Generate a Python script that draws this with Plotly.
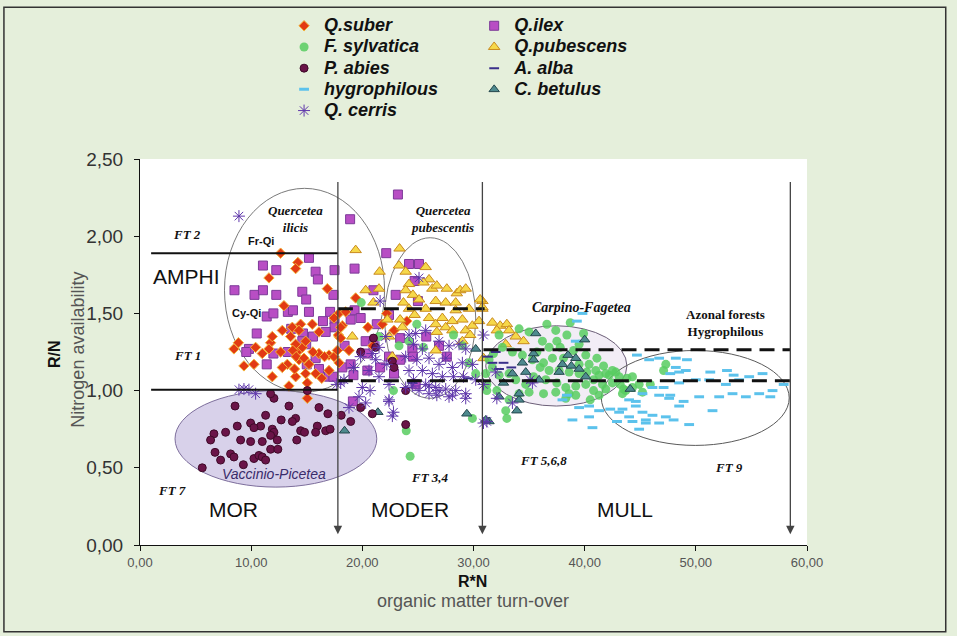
import plotly.graph_objects as go

# ---------------- data (x = R*N, y = R/N) ----------------
suber_x = [12.65, 14.2, 14.0, 11.6, 16.85, 12.95, 17.9, 14.45, 15.5, 16.1, 13.7, 8.45, 8.85, 10.25, 11.0, 11.75,
           11.9, 12.65, 13.25, 14.3, 14.6, 14.9, 14.3, 15.2, 16.1, 17.0, 17.9, 11.9, 14.0, 15.05, 15.8, 13.4, 17.0,
           12.8, 18.2, 17.85, 14.3, 13.55, 14.0, 10.4, 11.6, 13.75, 14.05, 14.75, 15.55, 16.6, 17.45, 17.75, 9.35,
           12.8, 13.9, 14.9, 16.35, 18.05, 19.4, 18.5, 18.05, 18.8, 17.9, 20.5, 24.0, 22.85, 17.45, 15.05, 22.2,
           21.8, 20.95]
suber_y = [1.89, 1.83, 1.79, 1.73, 1.66, 1.55, 1.50, 1.43, 1.43, 1.38, 1.41, 1.27, 1.31, 1.17, 1.24, 1.31,
           1.35, 1.25, 1.17, 1.26, 1.28, 1.32, 1.20, 1.17, 1.24, 1.23, 1.35, 1.09, 1.09, 1.05, 1.11, 1.03, 1.13,
           1.39, 1.42, 1.36, 1.39, 1.35, 1.30, 1.28, 1.27, 1.26, 1.22, 1.21, 1.25, 1.22, 1.22, 1.26, 1.16,
           1.15, 1.14, 1.11, 1.08, 1.34, 1.60, 1.51, 1.41, 1.26, 1.18, 1.41, 1.45, 1.39, 1.47, 0.95, 1.50,
           1.43, 1.29]

ilex_x = [15.2, 11.06, 12.26, 15.8, 16.0, 17.5, 8.5, 10.3, 11.06, 12.26, 14.6, 14.95, 17.4, 13.3, 13.76, 15.2,
          17.1, 11.4, 12.0, 16.46, 17.5, 13.6, 10.5, 17.5, 14.66, 16.7, 15.56, 9.8, 9.56, 12.0, 13.3, 14.6, 14.95,
          15.8, 15.0, 11.4, 16.1, 17.0, 18.2, 18.4, 23.2, 18.9, 22.15, 24.2, 25.1, 19.3, 24.7, 23.0, 21.0, 25.0,
          19.3, 19.85, 18.95, 22.4, 21.3, 20.3, 21.0, 23.4, 24.5, 25.75, 26.9, 24.55, 23.4, 22.4, 20.45, 18.95,
          17.4, 19.2, 20.45, 21.6, 22.85, 24.8, 27.6, 19.15]
ilex_y = [1.86, 1.81, 1.78, 1.77, 1.72, 1.78, 1.65, 1.62, 1.65, 1.62, 1.64, 1.59, 1.62, 1.51, 1.52, 1.51,
          1.51, 1.48, 1.50, 1.45, 1.46, 1.40, 1.37, 1.41, 1.37, 1.38, 1.35, 1.27, 1.25, 1.24, 1.25, 1.32, 1.30,
          1.21, 1.17, 1.17, 1.14, 1.09, 1.15, 1.29, 2.27, 2.11, 1.89, 1.82, 1.82, 1.79, 1.71, 1.62, 1.65, 1.58,
          1.52, 1.47, 1.46, 1.49, 1.43, 1.32, 1.30, 1.34, 1.27, 1.35, 1.29, 1.22, 1.20, 1.22, 1.24, 1.17,
          1.09, 1.10, 1.13, 1.15, 1.11, 1.04, 1.22, 0.93]

sylv_x = [36.6, 38.4, 37.5, 36.8, 37.8, 39.0, 40.1, 36.3, 37.1, 38.1, 39.5, 40.4, 41.1, 41.7, 41.0, 40.2, 39.5,
          38.6, 37.7, 36.8, 36.0, 35.3, 34.4, 33.5, 32.6, 31.8, 31.7, 32.3, 33.2, 33.8, 34.7, 35.4, 36.5, 37.5,
          38.3, 39.2, 40.1, 40.8, 41.3, 42.2, 42.8, 42.5, 41.9, 43.2, 43.8, 43.7, 44.3, 44.9, 40.8, 39.2, 38.3,
          38.6, 37.4, 36.3, 35.0, 34.1, 33.2, 32.9, 32.1, 31.2, 31.1, 31.4, 32.3, 34.1, 35.0, 38.7, 39.5, 39.9,
          35.7, 36.2, 37.4, 40.5, 41.3, 41.9, 42.5, 43.1, 43.5, 43.4, 44.3, 45.2, 45.9, 47.1, 47.3, 41.6,
          19.9, 24.9, 23.3, 25.5, 24.2, 28.2, 29.0, 29.6, 30.2, 22.8, 29.9, 23.95, 24.3, 33.0, 31.2, 21.5]
sylv_y = [1.43, 1.36, 1.32, 1.28, 1.28, 1.26, 1.23, 1.18, 1.21, 1.21, 1.17, 1.17, 1.21, 1.16, 1.13, 1.12, 1.11,
          1.12, 1.13, 1.13, 1.15, 1.20, 1.23, 1.25, 1.28, 1.24, 1.15, 1.10, 1.11, 1.07, 1.04, 1.09, 1.07, 1.05,
          1.02, 1.03, 1.04, 1.07, 1.10, 1.10, 1.12, 1.05, 1.01, 1.04, 1.08, 1.00, 1.02, 1.04, 1.00, 0.97, 0.95,
          0.98, 0.99, 0.98, 0.99, 0.98, 0.94, 0.87, 1.00, 1.04, 1.11, 1.20, 1.36, 1.40, 1.38, 1.44, 1.30, 1.37,
          1.25, 1.32, 1.39, 0.94, 0.97, 1.11, 1.13, 1.09, 1.01, 0.98, 1.09, 0.99, 1.04, 1.13, 1.17, 1.04,
          1.57, 1.43, 1.29, 1.28, 1.32, 1.36, 1.29, 1.18, 1.11, 1.00, 0.82, 0.74, 0.575, 0.82, 1.00, 1.35]

abies_x = [8.55, 11.3, 12.05, 11.75, 13.4, 16.1, 16.9, 18.1, 18.95, 12.7, 14.0, 13.7, 9.95, 10.85, 10.25, 8.75,
           11.9, 12.05, 14.45, 14.8, 15.95, 16.7, 15.8, 17.1, 7.7, 6.65, 6.35, 9.05, 9.95, 11.0, 11.75, 12.35,
           14.1, 11.75, 12.4, 6.75, 7.25, 8.15, 8.45, 9.3, 10.25, 10.7, 11.0, 11.3, 5.6, 15.05,
           21.0, 19.85, 21.2, 22.7, 22.85, 23.9, 19.85, 20.9, 23.9]
abies_y = [0.90, 0.84, 0.95, 0.98, 0.90, 0.89, 0.85, 0.84, 0.80, 0.81, 0.82, 0.80, 0.79, 0.77, 0.76, 0.77,
           0.75, 0.73, 0.74, 0.73, 0.77, 0.74, 0.73, 0.75, 0.73, 0.72, 0.68, 0.68, 0.67, 0.67, 0.71, 0.68,
           0.68, 0.62, 0.62, 0.60, 0.55, 0.59, 0.57, 0.52, 0.56, 0.58, 0.57, 0.55, 0.50, 1.00,
           1.34, 1.25, 1.28, 1.19, 1.15, 1.00, 0.89, 0.85, 0.78]

hygro_x = [44.7, 45.8, 46.7, 48.2, 49.2, 48.2, 48.5, 47.7, 49.1, 51.3, 52.8, 53.4, 54.8, 56.0, 53.9, 52.7, 51.2,
           50.0, 48.5, 47.1, 46.1, 45.2, 46.7, 47.7, 47.6, 48.9, 48.5, 50.3, 52.1, 53.3, 54.5, 55.7, 56.9, 57.9,
           56.7, 44.0, 44.6, 43.4, 43.1, 45.2, 46.1, 47.3, 48.0, 49.4, 45.5, 44.3, 44.9, 46.7, 51.5, 42.9,
           39.3, 39.2, 38.4, 40.4, 41.3, 42.3, 40.4, 38.9, 40.7, 44.0, 42.9, 45.5, 44.6, 38.0, 39.5, 39.8]
hygro_y = [1.23, 1.20, 1.21, 1.21, 1.20, 1.15, 1.12, 1.11, 1.13, 1.12, 1.13, 1.10, 1.09, 1.11, 1.07, 1.04, 1.07,
           1.07, 1.05, 1.02, 1.02, 0.98, 0.97, 0.97, 0.95, 0.93, 0.90, 0.96, 0.96, 0.98, 0.96, 0.98, 1.00, 1.04,
           0.96, 0.94, 0.90, 0.88, 0.86, 0.86, 0.84, 0.83, 0.81, 0.78, 0.81, 0.80, 0.75, 0.79, 0.87, 0.80,
           1.45, 1.32, 0.97, 0.90, 0.87, 0.88, 0.83, 0.81, 0.76, 0.83, 0.80, 0.79, 0.93, 0.94, 0.89, 1.50]

alba_x = [31.7, 32.7, 32.3, 31.3, 33.4, 32.0, 24.5, 29.5]
alba_y = [1.18, 1.18, 1.14, 1.22, 1.15, 1.25, 1.05, 1.08]

pub_x = [19.4, 23.35, 21.55, 23.3, 23.9, 25.7, 26.0, 24.2, 23.9, 25.5, 26.3, 26.7, 27.6, 28.5, 28.8, 29.3, 24.55,
         25.1, 23.7, 24.2, 25.7, 26.6, 27.5, 28.4, 28.4, 29.6, 30.8, 20.3, 21.5, 21.0, 22.25, 23.4, 24.7, 26.0,
         27.2, 26.6, 27.5, 28.1, 29.0, 23.6, 22.4, 19.1, 26.7, 28.1, 29.3, 29.9, 30.5, 29.7, 29.0, 26.6, 30.8,
         30.8, 31.7, 32.4, 33.0, 32.1, 33.2, 33.8, 34.5, 32.9, 30.9, 30.6, 22.7]
pub_y = [1.91, 1.92, 1.77, 1.81, 1.77, 1.80, 1.72, 1.69, 1.65, 1.70, 1.66, 1.68, 1.66, 1.63, 1.65, 1.66, 1.62,
         1.59, 1.57, 1.53, 1.53, 1.58, 1.57, 1.57, 1.52, 1.53, 1.58, 1.65, 1.66, 1.57, 1.46, 1.46, 1.49, 1.47,
         1.47, 1.43, 1.41, 1.45, 1.46, 1.41, 1.35, 1.35, 1.38, 1.39, 1.39, 1.42, 1.45, 1.36, 1.32, 1.26, 1.53,
         1.54, 1.44, 1.42, 1.43, 1.39, 1.39, 1.35, 1.32, 1.30, 1.21, 1.59, 1.22]

betul_x = [35.6, 40.0, 35.4, 35.4, 34.4, 38.5, 39.2, 38.0, 38.8, 39.5, 37.7, 33.5, 34.7, 35.9, 32.7, 40.1, 44.1,
           32.3, 34.1, 33.9, 31.4, 31.1, 30.2, 29.4, 21.4, 18.4, 34.1]
betul_y = [1.37, 1.33, 1.24, 1.20, 1.18, 1.23, 1.21, 1.17, 1.16, 1.14, 1.12, 1.11, 1.12, 1.07, 1.05, 1.09, 1.01,
           0.96, 0.94, 0.87, 0.80, 0.81, 1.27, 0.85, 0.86, 0.74, 0.98]

cerris_x = [25.1, 21.6, 24.2, 24.8, 25.7, 24.6, 25.4, 26.9, 27.8, 28.7, 29.3, 23.9, 24.9, 26.0, 26.9, 27.5, 28.1,
            29.0, 29.9, 24.2, 25.4, 26.3, 27.2, 28.2, 29.1, 30.2, 24.6, 25.7, 26.6, 27.5, 28.4, 29.3, 25.1, 26.0,
            26.7, 27.8, 23.9, 21.2, 22.2, 20.6, 21.5, 22.4, 20.0, 20.7, 19.7, 20.3, 18.8, 22.4, 22.8, 19.85, 19.2,
            18.35, 30.9, 20.9, 21.5, 22.1, 22.7, 22.4, 24.5, 26.0, 26.9, 28.1, 29.3, 32.1, 33.5, 35.3, 30.9, 32.0,
            35.1, 31.2, 30.9, 18.05, 17.7, 8.9, 8.9, 9.35, 9.8, 10.4]
cerris_y = [1.73, 1.58, 1.36, 1.37, 1.39, 1.30, 1.27, 1.32, 1.29, 1.30, 1.27, 1.22, 1.20, 1.21, 1.17, 1.21, 1.15,
            1.18, 1.17, 1.13, 1.13, 1.11, 1.09, 1.09, 1.09, 1.07, 1.07, 1.04, 1.02, 1.01, 1.00, 0.98, 1.00, 0.98,
            0.97, 0.96, 1.02, 1.20, 1.17, 1.13, 1.09, 1.04, 1.02, 1.00, 0.96, 0.92, 0.89, 0.93, 0.86, 1.22, 1.15,
            1.07, 0.79, 1.24, 1.28, 1.35, 0.835, 0.94, 1.03, 1.03, 1.00, 0.97, 0.95, 0.95, 0.92, 1.05, 1.36, 1.12,
            1.07, 0.80, 1.04, 1.05, 1.04, 2.13, 1.006, 1.01, 1.006, 0.98]

x_ticks = [0, 10, 20, 30, 40, 50, 60]
x_ticklabels = ["0,00", "10,00", "20,00", "30,00", "40,00", "50,00", "60,00"]
y_ticks = [0, 0.5, 1.0, 1.5, 2.0, 2.5]
y_ticklabels = ["0,00", "0,50", "1,00", "1,50", "2,00", "2,50"]

# boundaries (R*N limits of humus forms, R/N limits)
humus_limits = [17.8, 30.8, 58.5]
arrow_top, arrow_bottom = 2.36, 0.07
amphi_levels = [1.89, 1.005]
amphi_span = [1.0, 17.8]
dash_upper = (1.53, 17.8, 31.0)
dash_mid = (1.265, 30.9, 58.5)
dash_low = (1.063, 17.8, 58.5)

# ellipses: (x0, x1, y0, y1)
ell_ilicis = (7.6, 22.0, 0.99, 2.31)
ell_pub = (22.0, 30.2, 0.95, 1.99)
ell_vacc = (3.15, 21.3, 0.375, 1.0)
ell_carp = (31.1, 43.8, 0.90, 1.42)
ell_azon = (41.5, 58.4, 0.645, 1.26)

SANS = "Liberation Sans, Arial, sans-serif"
SERIF = "Liberation Serif, Times New Roman, serif"


def lname(t):
    return '<span style="font-size:18px">' + t + '</span>'


fig = go.Figure()

fig.add_trace(go.Scatter(x=ilex_x, y=ilex_y, mode="markers", name=lname("Q.ilex"), legend="legend2",
                         legendrank=1,
                         marker=dict(symbol="square", size=9, color="#b84ec4",
                                     line=dict(color="#7c3a98", width=1))))
fig.add_trace(go.Scatter(x=suber_x, y=suber_y, mode="markers", name=lname("Q.suber"), legend="legend",
                         legendrank=1,
                         marker=dict(symbol="diamond", size=8, color="#e23a14",
                                     line=dict(color="#f4b43a", width=1))))
fig.add_trace(go.Scatter(x=pub_x, y=pub_y, mode="markers", name=lname("Q.pubescens"), legend="legend2",
                         legendrank=2,
                         marker=dict(symbol="triangle-up", size=10, color="#f6d84a",
                                     line=dict(color="#c98a1e", width=1))))
fig.add_trace(go.Scatter(x=sylv_x, y=sylv_y, mode="markers", name=lname("F. sylvatica"), legend="legend",
                         legendrank=2,
                         marker=dict(symbol="circle", size=9, color="rgba(88,204,96,0.85)",
                                     line=dict(width=0))))
fig.add_trace(go.Scatter(x=hygro_x, y=hygro_y, mode="markers", name=lname("hygrophilous"), legend="legend",
                         legendrank=4,
                         marker=dict(symbol="line-ew", size=7, color="#5cc2ec",
                                     line=dict(color="#5cc2ec", width=3))))
fig.add_trace(go.Scatter(x=alba_x, y=alba_y, mode="markers", name=lname("A. alba"), legend="legend2",
                         legendrank=3,
                         marker=dict(symbol="line-ew", size=7, color="#3a2f8a",
                                     line=dict(color="#3a2f8a", width=2))))
fig.add_trace(go.Scatter(x=betul_x, y=betul_y, mode="markers", name=lname("C. betulus"), legend="legend2",
                         legendrank=4,
                         marker=dict(symbol="triangle-up", size=9, color="#4e8a8e",
                                     line=dict(color="#23464c", width=1))))
fig.add_trace(go.Scatter(x=abies_x, y=abies_y, mode="markers", name=lname("P. abies"), legend="legend",
                         legendrank=3,
                         marker=dict(symbol="circle", size=8, color="#6a1448",
                                     line=dict(color="#3e0a28", width=1))))
fig.add_trace(go.Scatter(x=cerris_x, y=cerris_y, mode="markers", name=lname("Q. cerris"), legend="legend",
                         legendrank=5,
                         marker=dict(symbol="asterisk-open", size=10, color="#5e36aa",
                                     line=dict(color="#5e36aa", width=1))))

# ellipses
def ell(e, fill, line):
    fig.add_shape(type="circle", xref="x", yref="y", x0=e[0], x1=e[1], y0=e[2], y1=e[3],
                  fillcolor=fill, line=dict(color=line, width=1), layer="below")


ell(ell_vacc, "#d8d1ea", "#7d6e9c")
ell(ell_carp, "#f2edf6", "#6c5f78")
ell(ell_ilicis, "rgba(0,0,0,0)", "#7a7a7a")
ell(ell_pub, "rgba(0,0,0,0)", "#7a7a7a")
ell(ell_azon, "rgba(0,0,0,0)", "#5a5a5a")

# AMPHI solid lines
for lv in amphi_levels:
    fig.add_shape(type="line", xref="x", yref="y", x0=amphi_span[0], x1=amphi_span[1], y0=lv, y1=lv,
                  line=dict(color="#111111", width=2), layer="above")

# dashed lines
for (lv, a, b) in (dash_upper, dash_mid, dash_low):
    fig.add_shape(type="line", xref="x", yref="y", x0=a, x1=b, y0=lv, y1=lv,
                  line=dict(color="#111111", width=3, dash="15px,8px"), layer="above")

# vertical arrows (humus form limits)
for xl in humus_limits:
    fig.add_annotation(x=xl, y=arrow_bottom, ax=xl, ay=arrow_top, xref="x", yref="y", axref="x", ayref="y",
                       text="", showarrow=True, arrowhead=2, arrowsize=1.3, arrowwidth=1.3,
                       arrowcolor="#444444")

# text labels
def lab(x, y, t, fam=SERIF, size=13, bold=True, italic=True, color="#111111"):
    fig.add_annotation(x=x, y=y, xref="x", yref="y", text=t, showarrow=False,
                       font=dict(family=fam, size=size, color=color,
                                 weight="bold" if bold else "normal",
                                 style="italic" if italic else "normal"))


lab(4.25, 2.01, "FT 2")
lab(4.25, 1.23, "FT 1")
lab(2.9, 0.35, "FT 7")
lab(26.1, 0.44, "FT 3,4")
lab(36.3, 0.55, "FT 5,6,8")
lab(53.0, 0.50, "FT 9")
lab(14.0, 2.11, "Quercetea<br>ilicis")
lab(27.25, 2.11, "Quercetea<br>pubescentis")
lab(39.7, 1.54, "Carpino-Fagetea", size=14)
lab(52.7, 1.435, "Azonal forests<br>Hygrophilous", italic=False)
lab(10.85, 1.97, "Fr-Qi", fam=SANS, size=11, italic=False)
lab(9.6, 1.50, "Cy-Qi", fam=SANS, size=11, italic=False)
lab(12.05, 0.46, "Vaccinio-Picetea", fam=SANS, size=14, bold=False, color="#3a2c6a")
lab(4.2, 1.74, "AMPHI", fam=SANS, size=21, bold=False, italic=False)
lab(8.45, 0.23, "MOR", fam=SANS, size=21, bold=False, italic=False)
lab(24.3, 0.23, "MODER", fam=SANS, size=21, bold=False, italic=False)
lab(43.6, 0.23, "MULL", fam=SANS, size=21, bold=False, italic=False)

# axis titles
def ptxt(x, y, t, size, color, bold=False, angle=0):
    fig.add_annotation(x=x, y=y, xref="paper", yref="paper", text=t, showarrow=False, textangle=angle,
                       font=dict(family=SANS, size=size, color=color, weight="bold" if bold else "normal"))


ptxt(-0.144, 0.496, "R/N", 16, "#111111", bold=True, angle=-90)
ptxt(-0.111, 0.506, "Nitrogen availability", 18, "#555555", angle=-90)
ptxt(0.499, -0.121, "R*N", 16, "#111111", bold=True)
ptxt(0.499, -0.176, "organic matter turn-over", 18, "#555555")

# outer frame
fig.add_shape(type="rect", xref="paper", yref="paper", x0=-0.204, x1=1.208, y0=-0.225, y1=1.393,
              line=dict(color="#333333", width=1.5), fillcolor="rgba(0,0,0,0)", layer="below")

legend_style = dict(font=dict(family=SANS, size=14, color="#111111", weight="bold", style="italic"),
                    bgcolor="rgba(0,0,0,0)", borderwidth=0, xanchor="left", yanchor="top",
                    orientation="v", traceorder="normal")

fig.update_layout(
    width=957, height=636,
    margin=dict(l=140, r=150, t=158, b=91),
    paper_bgcolor="#e5efdb", plot_bgcolor="#ffffff",
    showlegend=True,
    legend=dict(x=0.216, y=1.382, **legend_style),
    legend2=dict(x=0.501, y=1.382, **legend_style),
    xaxis=dict(range=[0, 60], tickvals=x_ticks, ticktext=x_ticklabels, showgrid=False, zeroline=False,
               showline=True, linecolor="#111111", linewidth=1, ticks="outside", ticklen=5, tickcolor="#111111",
               tickfont=dict(family=SANS, size=13, color="#555555")),
    yaxis=dict(range=[0, 2.5], tickvals=y_ticks, ticktext=y_ticklabels, showgrid=False, zeroline=False,
               showline=True, linecolor="#111111", linewidth=1, ticks="outside", ticklen=5, tickcolor="#111111",
               ticklabelstandoff=7,
               tickfont=dict(family=SANS, size=19, color="#333333")),
)

fig.write_html("out.html", config={"displayModeBar": False},
               post_script="document.body.style.margin='0px';")
